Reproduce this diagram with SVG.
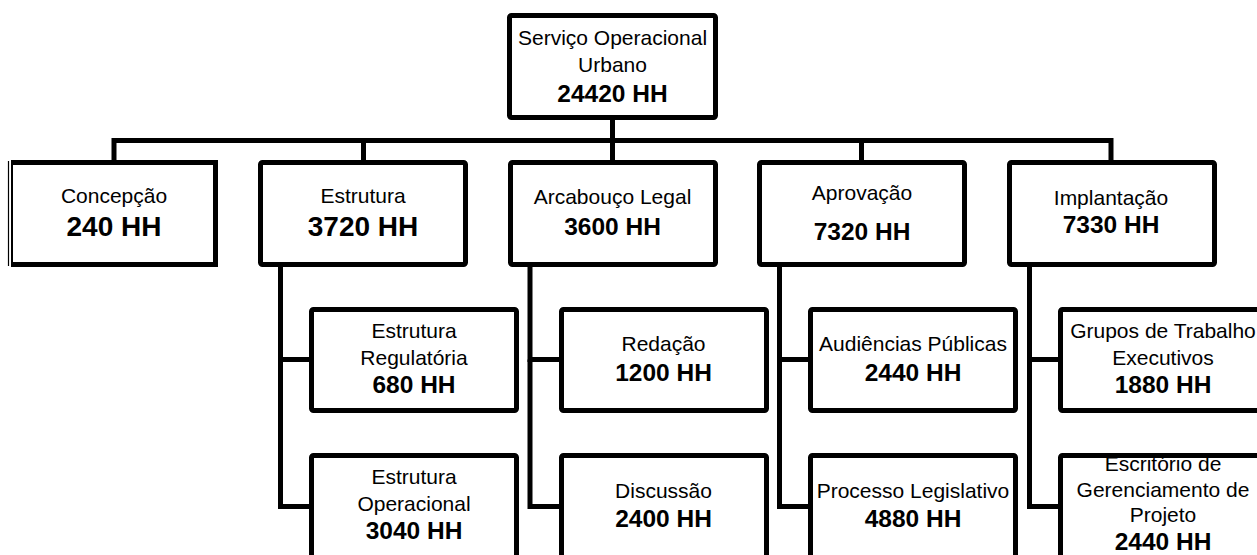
<svg xmlns="http://www.w3.org/2000/svg" width="1257" height="555" viewBox="0 0 1257 555">
  <style>
    .box { fill: none; stroke: #000; stroke-width: 5; }
    .wire { fill: none; stroke: #000; stroke-width: 5; stroke-linejoin: miter; }
    text { font-family: "Liberation Sans", Arial, sans-serif; fill: #000; text-anchor: middle; }
    .lbl { font-size: 21px; }
    .hh { font-size: 24.5px; font-weight: bold; }
    .hh-big { font-size: 28px; font-weight: bold; }
  </style>
  <rect width="1257" height="555" fill="#fff"/>

  <!-- connectors -->
  <g id="connectors">
    <path class="wire" d="M612.5 120 V140.5"/>
    <path class="wire" d="M114 160 V140.5 H1111 V160"/>
    <path class="wire" d="M363.5 140.5 V160"/>
    <path class="wire" d="M612.5 140.5 V160"/>
    <path class="wire" d="M861.5 140.5 V160"/>
    <!-- Estrutura children -->
    <path class="wire" d="M309 359.5 H280.5 V267"/>
    <path class="wire" d="M280.5 359.5 V506.5 H309"/>
    <!-- Arcabouço Legal children -->
    <path class="wire" d="M559 359.5 H530 V267"/>
    <path class="wire" d="M530 359.5 V506.5 H559"/>
    <!-- Aprovação children -->
    <path class="wire" d="M808 359.5 H779.5 V267"/>
    <path class="wire" d="M779.5 359.5 V506.5 H808"/>
    <!-- Implantação children -->
    <path class="wire" d="M1058 359.5 H1029.5 V267"/>
    <path class="wire" d="M1029.5 359.5 V506.5 H1058"/>
  </g>

  <!-- root -->
  <g id="node-root">
    <text class="lbl" x="612.5" y="45">Serviço Operacional</text>
    <text class="lbl" x="612.5" y="72">Urbano</text>
    <text class="hh" x="612.5" y="102">24420 HH</text>
    <rect class="box" x="509.5" y="15.5" width="206" height="102" rx="2"/>
  </g>

  <!-- level 1 -->
  <g id="node-concepcao">
    <text class="lbl" x="114" y="202.5">Concepção</text>
    <text class="hh-big" x="114" y="236">240 HH</text>
    <path class="box" d="M11 162.5 H215.5 V264.5 H11"/>
    <line x1="12" y1="160" x2="12" y2="267" stroke="#000" stroke-width="2"/>
    <line x1="8.5" y1="161" x2="8.5" y2="266" stroke="#000" stroke-width="1.2"/>
  </g>
  <g id="node-estrutura">
    <text class="lbl" x="363" y="203">Estrutura</text>
    <text class="hh-big" x="363" y="236">3720 HH</text>
    <rect class="box" x="260.5" y="162.5" width="205" height="102" rx="2"/>
  </g>
  <g id="node-arcabouco">
    <text class="lbl" x="612.5" y="204">Arcabouço Legal</text>
    <text class="hh" x="612.5" y="235">3600 HH</text>
    <rect class="box" x="510.5" y="162.5" width="205" height="102" rx="2"/>
  </g>
  <g id="node-aprovacao">
    <text class="lbl" x="862" y="200">Aprovação</text>
    <text class="hh" x="862" y="240">7320 HH</text>
    <rect class="box" x="759.5" y="162.5" width="205" height="102" rx="2"/>
  </g>
  <g id="node-implantacao">
    <text class="lbl" x="1111" y="205">Implantação</text>
    <text class="hh" x="1111" y="233">7330 HH</text>
    <rect class="box" x="1009.5" y="162.5" width="205" height="102" rx="2"/>
  </g>

  <!-- level 2: Estrutura -->
  <g id="node-estrutura-regulatoria">
    <text class="lbl" x="414" y="338">Estrutura</text>
    <text class="lbl" x="414" y="365">Regulatória</text>
    <text class="hh" x="414" y="393">680 HH</text>
    <rect class="box" x="311.5" y="309.5" width="205" height="101" rx="2"/>
  </g>
  <g id="node-estrutura-operacional">
    <text class="lbl" x="414" y="484">Estrutura</text>
    <text class="lbl" x="414" y="511">Operacional</text>
    <text class="hh" x="414" y="539">3040 HH</text>
    <rect class="box" x="311.5" y="455.5" width="205" height="110" rx="2"/>
  </g>

  <!-- level 2: Arcabouço Legal -->
  <g id="node-redacao">
    <text class="lbl" x="663.5" y="351">Redação</text>
    <text class="hh" x="663.5" y="381">1200 HH</text>
    <rect class="box" x="561.5" y="309.5" width="205" height="101" rx="2"/>
  </g>
  <g id="node-discussao">
    <text class="lbl" x="663.5" y="498">Discussão</text>
    <text class="hh" x="663.5" y="527">2400 HH</text>
    <rect class="box" x="561.5" y="455.5" width="205" height="110" rx="2"/>
  </g>

  <!-- level 2: Aprovação -->
  <g id="node-audiencias">
    <text class="lbl" x="913" y="351">Audiências Públicas</text>
    <text class="hh" x="913" y="381">2440 HH</text>
    <rect class="box" x="810.5" y="309.5" width="205" height="101" rx="2"/>
  </g>
  <g id="node-processo">
    <text class="lbl" x="913" y="498">Processo Legislativo</text>
    <text class="hh" x="913" y="527">4880 HH</text>
    <rect class="box" x="810.5" y="455.5" width="205" height="110" rx="2"/>
  </g>

  <!-- level 2: Implantação -->
  <g id="node-grupos">
    <text class="lbl" x="1163" y="338">Grupos de Trabalho</text>
    <text class="lbl" x="1163" y="365">Executivos</text>
    <text class="hh" x="1163" y="393">1880 HH</text>
    <rect class="box" x="1060.5" y="309.5" width="205" height="101" rx="2"/>
  </g>
  <g id="node-escritorio">
    <text class="lbl" x="1163" y="471">Escritório de</text>
    <text class="lbl" x="1163" y="497">Gerenciamento de</text>
    <text class="lbl" x="1163" y="522">Projeto</text>
    <text class="hh" x="1163" y="550">2440 HH</text>
    <rect x="1058" y="440" width="210" height="18" fill="#fff"/>
    <rect class="box" x="1060.5" y="455.5" width="205" height="110" rx="2"/>
  </g>
</svg>
